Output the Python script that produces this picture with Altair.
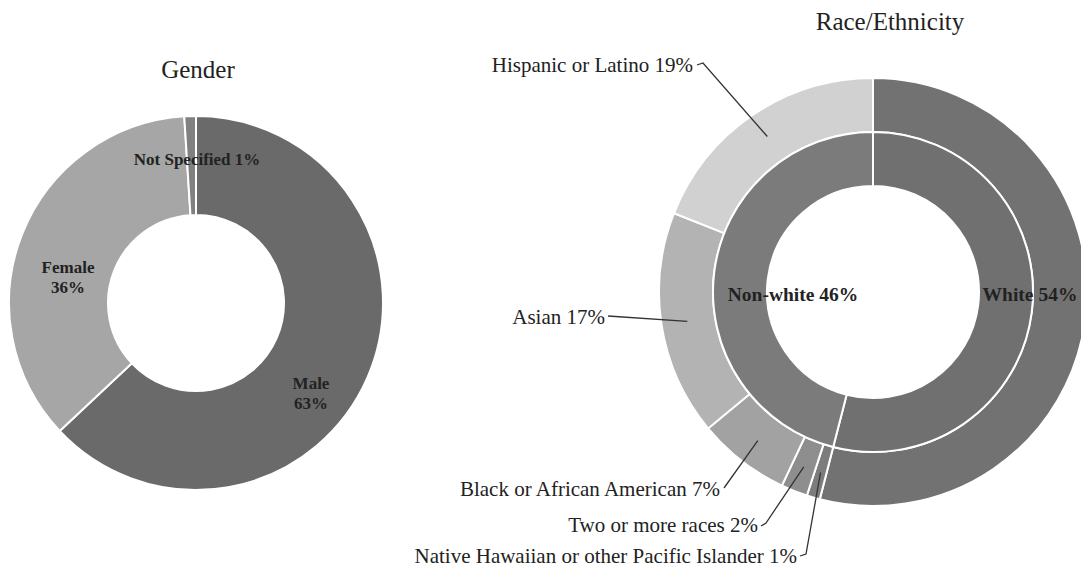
import math
import altair as alt
import pandas as pd

# ---------------- data ----------------
gender_cats = ["Male", "Female", "Not Specified"]
gender_vals = [63, 36, 1]

race_cats = ["White", "Native Hawaiian or other Pacific Islander", "Two or more races",
             "Black or African American", "Asian", "Hispanic or Latino"]
race_vals = [54, 1, 2, 7, 17, 19]

group_cats = ["White", "Non-white"]
group_vals = [54, 46]

# ---------------- style / layout ----------------
gender_colors = ["#6a6a6a", "#a6a6a6", "#808080"]
race_colors = ["#727272", "#7c7c7c", "#8e8e8e", "#a2a2a2", "#b3b3b3", "#d1d1d1"]
group_colors = ["#707070", "#7b7b7b"]

M = 8  # page margin
FONT = "Liberation Serif"
G_CX, G_CY, G_R, G_IR = 196 - M, 303 - M, 187, 88
R_CX, R_CY = 873 - M, 292 - M
R_OUT, R_MID, R_IN = 214, 160, 106

# label anchors (right end of text) for the outer race labels, page coords
race_label_pos = [None, (797, 557), (758, 526), (720, 490), (605, 318), (693, 66)]
# small hook next to each label (start, elbow)
race_hook = [None, [(800, 556), (806, 554)], [(761, 526), (766, 523)],
             [(724, 488)], [(608, 316)], [(697, 65), (703, 63)]]

W, H = 1089 - 2 * M, 575 - 2 * M


def arc_layer(cats, vals, colors, cx, cy, r_out, r_in):
    df = pd.DataFrame({"cat": cats, "value": vals, "color": colors,
                       "idx": list(range(len(cats)))})
    return alt.Chart(df).mark_arc(
        outerRadius=r_out, innerRadius=r_in, stroke="white", strokeWidth=2
    ).encode(
        theta=alt.Theta("value:Q", stack=True, scale=alt.Scale(domain=[0, 100])),
        order=alt.Order("idx:Q"),
        color=alt.Color("color:N", scale=None),
        x=alt.value(cx), y=alt.value(cy),
    )


gender_arc = arc_layer(gender_cats, gender_vals, gender_colors, G_CX, G_CY, G_R, G_IR)
race_outer = arc_layer(race_cats, race_vals, race_colors, R_CX, R_CY, R_OUT, R_MID)
race_inner = arc_layer(group_cats, group_vals, group_colors, R_CX, R_CY, R_MID, R_IN)

# ---------------- leader lines (slice end from data mid-angles) ----------------
rows = []
cum = 0
r_lead = (R_OUT + R_MID) / 2 + 1
for i, (c, v) in enumerate(zip(race_cats, race_vals)):
    mid = cum + v / 2
    cum += v
    if race_label_pos[i] is None:
        continue
    ang = mid / 100 * 2 * math.pi
    sx = R_CX + r_lead * math.sin(ang)
    sy = R_CY - r_lead * math.cos(ang)
    pts = [(px - M, py - M) for px, py in race_hook[i]] + [(sx, sy)]
    for k, (px, py) in enumerate(pts):
        rows.append({"id": c, "k": k, "px": px, "py": py})
lead_df = pd.DataFrame(rows)
leaders = alt.Chart(lead_df).mark_line(color="#333333", strokeWidth=1.3).encode(
    x=alt.X("px:Q", scale=None, axis=None),
    y=alt.Y("py:Q", scale=None, axis=None),
    detail="id:N",
    order="k:Q",
)

# ---------------- outer race labels ----------------
lab_rows = []
for i, (c, v) in enumerate(zip(race_cats, race_vals)):
    if race_label_pos[i] is None:
        continue
    px, py = race_label_pos[i]
    lab_rows.append({"t": f"{c} {v}%", "px": px - M, "py": py - M})
race_labels = alt.Chart(pd.DataFrame(lab_rows)).mark_text(
    font=FONT, fontSize=21, align="right", baseline="middle", color="#222222"
).encode(
    x=alt.X("px:Q", scale=None, axis=None),
    y=alt.Y("py:Q", scale=None, axis=None),
    text="t:N",
)

# ---------------- inner bold labels ----------------
g_pos = [(311, 384), (68, 268), (197, 160)]
g_text = [f"{gender_cats[0]}\n{gender_vals[0]}%", f"{gender_cats[1]}\n{gender_vals[1]}%",
          f"{gender_cats[2]} {gender_vals[2]}%"]
g_df = pd.DataFrame({"t": g_text, "px": [p[0] - M for p in g_pos], "py": [p[1] - M for p in g_pos]})
gender_labels = alt.Chart(g_df).mark_text(
    font=FONT, fontSize=17, fontWeight="bold", align="center", baseline="middle",
    lineBreak="\n", lineHeight=20, color="#222222"
).encode(
    x=alt.X("px:Q", scale=None, axis=None),
    y=alt.Y("py:Q", scale=None, axis=None),
    text="t:N",
)

grp_pos = [(1030, 295), (793, 295)]
grp_df = pd.DataFrame({"t": [f"{c} {v}%" for c, v in zip(group_cats, group_vals)],
                       "px": [p[0] - M for p in grp_pos], "py": [p[1] - M for p in grp_pos]})
group_labels = alt.Chart(grp_df).mark_text(
    font=FONT, fontSize=19.5, fontWeight="bold", align="center", baseline="middle", color="#222222"
).encode(
    x=alt.X("px:Q", scale=None, axis=None),
    y=alt.Y("py:Q", scale=None, axis=None),
    text="t:N",
)

# ---------------- titles ----------------
t_df = pd.DataFrame({"t": ["Gender", "Race/Ethnicity"], "px": [198 - M, 890 - M], "py": [78 - M, 30 - M]})
titles = alt.Chart(t_df).mark_text(
    font=FONT, fontSize=25, align="center", baseline="alphabetic", color="#222222"
).encode(
    x=alt.X("px:Q", scale=None, axis=None),
    y=alt.Y("py:Q", scale=None, axis=None),
    text="t:N",
)

chart = alt.layer(
    gender_arc, race_outer, race_inner, leaders, race_labels, gender_labels, group_labels, titles
).properties(
    width=W, height=H, padding=0, autosize=alt.AutoSizeParams(type="none")
).configure_view(stroke=None)

chart.save("out.html", embed_options={"renderer": "svg", "actions": False})
